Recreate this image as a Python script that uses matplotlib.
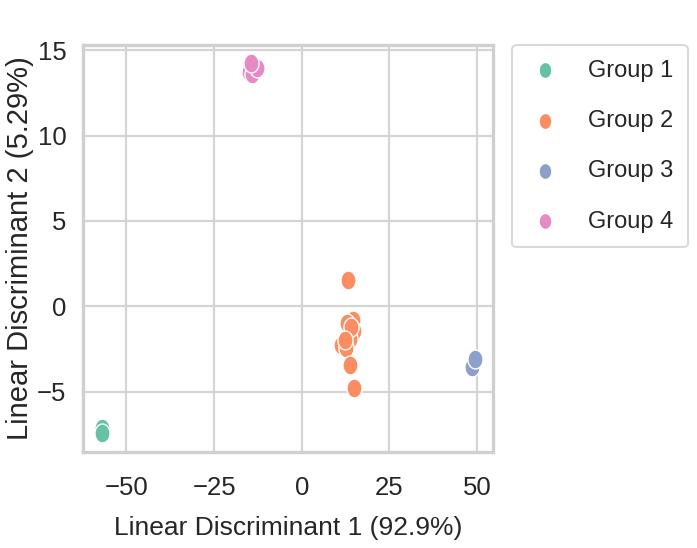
import numpy as np
import matplotlib
matplotlib.use("Agg")
import matplotlib.pyplot as plt
from matplotlib.path import Path
import seaborn as sns

# LDA scores for each group (LD1, LD2)
groups = ["Group 1", "Group 2", "Group 3", "Group 4"]
ld1_g1 = [-57.0, -57.0]
ld2_g1 = [-7.15, -7.46]
ld1_g2 = [13.2, 14.5, 12.8, 15.0, 13.7, 11.2, 12.6, 13.8, 15.0, 14.0, 12.2]
ld2_g2 = [1.55, -0.8, -1.0, -1.45, -1.95, -2.25, -2.45, -3.45, -4.8, -1.2, -2.0]
ld1_g3 = [48.6, 49.3]
ld2_g3 = [-3.57, -3.08]
ld1_g4 = [-15.1, -14.3, -12.9, -14.6]
ld2_g4 = [13.7, 13.6, 13.94, 14.22]

xlabel = "Linear Discriminant 1 (92.9%)"
ylabel = "Linear Discriminant 2 (5.29%)"

sns.set_theme(style="whitegrid")
plt.rcParams["font.family"] = ["Liberation Sans", "DejaVu Sans"]
plt.rcParams["axes.unicode_minus"] = True

palette = sns.color_palette("Set2", 4)

# slightly narrow ellipse marker
t = np.linspace(0, 2 * np.pi, 60)
ell = Path(np.column_stack([0.8 * np.cos(t), np.sin(t)]), closed=True)

fig = plt.figure(figsize=(6.97, 5.48), dpi=100)
ax = fig.add_axes([0.1195, 0.1752, 0.5883, 0.7427])

data = [(ld1_g1, ld2_g1), (ld1_g2, ld2_g2), (ld1_g3, ld2_g3), (ld1_g4, ld2_g4)]
for name, (xs, ys), col in zip(groups, data, palette):
    ax.scatter(xs, ys, s=185, marker=ell, color=col, edgecolor="white",
               linewidth=1.0, label=name, zorder=3)

ax.margins(0.05)
ax.set_xticks([-50, -25, 0, 25, 50])
ax.set_yticks([-5, 0, 5, 10, 15])
ax.grid(True, color="#d4d4d4", linewidth=1.6)
for sp in ax.spines.values():
    sp.set_color("#d0d0d0")
    sp.set_linewidth(2.4)
ax.tick_params(axis="both", length=0, labelsize=18.5, labelcolor="#262626")
ax.tick_params(axis="x", pad=17)
ax.tick_params(axis="y", pad=12)

ax.set_xlabel(xlabel, fontsize=19, color="#262626", labelpad=12)
ax.set_ylabel(ylabel, fontsize=21, color="#262626")
ax.yaxis.set_label_coords(-0.119, 0.5)

leg = ax.legend(loc="upper left", bbox_to_anchor=(1.045, 1.0), borderaxespad=0,
                fontsize=17, frameon=True, markerscale=0.85, labelspacing=1.2,
                handlelength=1.6, handletextpad=1.0, borderpad=0.62)
leg.get_frame().set_edgecolor("#d0d0d0")
leg.get_frame().set_linewidth(1.5)
for txt in leg.get_texts():
    txt.set_color("#262626")

fig.savefig("out.png", dpi=100)
